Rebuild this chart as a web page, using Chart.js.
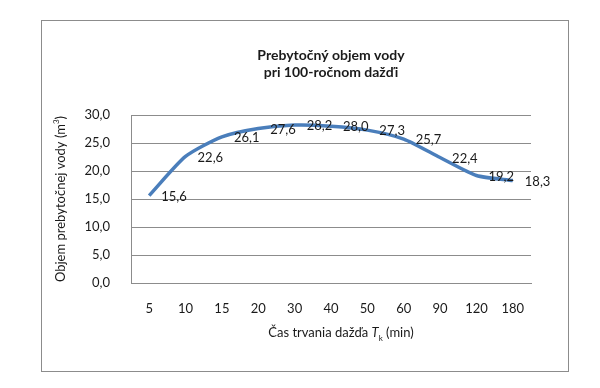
<!DOCTYPE html>
<html>
<head>
<meta charset="utf-8">
<script src="https://cdn.jsdelivr.net/npm/chart.js@4.4.0/dist/chart.umd.min.js"></script>
<style>
  html, body { margin: 0; padding: 0; background: #fff; }
</style>
</head>
<body>
<canvas id="mycanvas" width="600" height="388"></canvas>
<script>
// trvanie dazda (min) a prebytocny objem vody
var minuty = ['5', '10', '15', '20', '30', '40', '50', '60', '90', '120', '180'];
var objem = [15.6, 22.6, 26.1, 27.6, 28.2, 28.0, 27.3, 25.7, 22.4, 19.2, 18.3];
var yTicky = [0, 5, 10, 15, 20, 25, 30];

var nadpis = ['Prebytočný objem vody', 'pri 100-ročnom dažďi'];
var FONT = 'Lato, "Open Sans", sans-serif';
var SIVA = '#8c8c8c';

function ciarka(v) {
  return v.toFixed(1).replace('.', ',');
}

var popisy = {
  id: 'popisy',
  beforeDraw: function(chart) {
    var ctx = chart.ctx;
    ctx.save();
    ctx.fillStyle = '#fff';
    ctx.fillRect(0, 0, chart.width, chart.height);
    ctx.strokeStyle = SIVA;
    ctx.lineWidth = 1;
    ctx.strokeRect(41.5, 20.5, 527, 351);
    ctx.restore();
  },
  afterDatasetsDraw: function(chart) {
    var ctx = chart.ctx;
    var area = chart.chartArea;
    var meta = chart.getDatasetMeta(0);
    ctx.save();
    ctx.fillStyle = '#1a1a1a';

    // hodnoty pri bodoch
    ctx.font = '13px ' + FONT;
    ctx.textAlign = 'left';
    ctx.textBaseline = 'middle';
    meta.data.forEach(function(pt, i) {
      ctx.fillText(ciarka(objem[i]), pt.x + 12, pt.y + 1);
    });

    // nadpis grafu
    var cx = (area.left + area.right) / 2;
    ctx.font = 'bold 14px ' + FONT;
    ctx.textAlign = 'center';
    ctx.fillText(nadpis[0], cx, 55);
    ctx.fillText(nadpis[1], cx, 72);

    // nazov osi x: Čas trvania dažďa T_k (min)
    var a = 'Čas trvania dažďa ';
    var b = 'T';
    var c = ' (min)';
    ctx.font = '13px ' + FONT;
    var wa = ctx.measureText(a).width, wc = ctx.measureText(c).width;
    ctx.font = 'italic 13px ' + FONT;
    var wb = ctx.measureText(b).width;
    ctx.font = '8px ' + FONT;
    var wk = ctx.measureText('k').width;
    var x = cx + 10 - (wa + wb + wk + wc) / 2;
    var y = 333;
    ctx.textAlign = 'left';
    ctx.font = '13px ' + FONT;
    ctx.fillText(a, x, y);
    ctx.font = 'italic 13px ' + FONT;
    ctx.fillText(b, x + wa, y);
    ctx.font = '8px ' + FONT;
    ctx.fillText('k', x + wa + wb, y + 5);
    ctx.font = '13px ' + FONT;
    ctx.fillText(c, x + wa + wb + wk, y);

    // nazov osi y
    var cy = (area.top + area.bottom) / 2;
    var t1 = 'Objem prebytočnej vody (m';
    var t2 = ')';
    ctx.translate(61, cy);
    ctx.rotate(-Math.PI / 2);
    ctx.font = '13px ' + FONT;
    var w1 = ctx.measureText(t1).width, w2 = ctx.measureText(t2).width;
    ctx.font = '8px ' + FONT;
    var w3 = ctx.measureText('3').width;
    var sx = -(w1 + w2 + w3) / 2;
    ctx.font = '13px ' + FONT;
    ctx.fillText(t1, sx, 0);
    ctx.font = '8px ' + FONT;
    ctx.fillText('3', sx + w1, -5);
    ctx.font = '13px ' + FONT;
    ctx.fillText(t2, sx + w1 + w3, 0);
    ctx.restore();
  }
};

var chartdata = {
  labels: minuty,
  datasets: [{
    label: 'Prebytočný objem vody',
    data: objem,
    borderColor: '#4a7ebb',
    backgroundColor: '#4a7ebb',
    borderWidth: 3.5,
    pointRadius: 0,
    tension: 0.22,
    fill: false
  }]
};

var ctx = document.getElementById('mycanvas');
var graf = new Chart(ctx, {
  type: 'line',
  data: chartdata,
  plugins: [popisy],
  options: {
    responsive: false,
    animation: false,
    layout: { padding: { left: 41, right: 69, top: 115, bottom: 40 } },
    plugins: {
      legend: { display: false },
      title: { display: false },
      tooltip: { enabled: false }
    },
    scales: {
      x: {
        offset: true,
        grid: { display: false, drawTicks: false },
        border: { display: true, color: SIVA, width: 1 },
        ticks: {
          padding: 18,
          maxRotation: 0,
          autoSkip: false,
          color: '#1a1a1a',
          font: { family: FONT, size: 13 }
        },
        afterFit: function(s) { s.height = 65; }
      },
      y: {
        min: yTicky[0],
        max: yTicky[yTicky.length - 1],
        grid: { color: SIVA, drawTicks: false },
        border: { display: true, color: SIVA, width: 1 },
        ticks: {
          stepSize: yTicky[1] - yTicky[0],
          padding: 21,
          color: '#1a1a1a',
          font: { family: FONT, size: 13 },
          callback: function(v) { return ciarka(v); }
        },
        afterFit: function(s) { s.width = 90; }
      }
    }
  }
});
</script>
</body>
</html>
